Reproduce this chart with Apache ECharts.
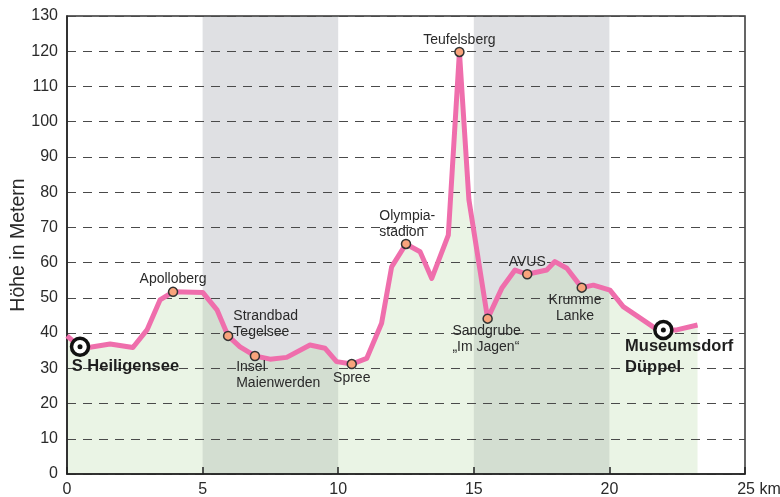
<!DOCTYPE html>
<html>
<head>
<meta charset="utf-8">
<script src="https://cdn.jsdelivr.net/npm/echarts@6/dist/echarts.min.js"></script>
<style>
html,body{margin:0;padding:0;background:#fff;}
#chart{width:780px;height:497px;}
</style>
</head>
<body>
<div id="chart"></div>
<script>
// Elevation profile (km along route, height in metres)
const profileKm = [0, 0.48, 0.85, 1.59, 2.43, 2.95, 3.43, 3.91, 5.01, 5.53, 5.94, 6.38, 6.93, 7.49, 8.10, 8.96, 9.51, 9.94, 10.50, 11.05, 11.60, 11.97, 12.50, 13.02, 13.45, 14.06, 14.47, 14.82, 15.51, 16.03, 16.52, 16.97, 17.69, 17.99, 18.43, 18.98, 19.41, 20.02, 20.51, 21.07, 21.68, 21.99, 22.48, 23.25];
const profileHeight = [39.2, 36.1, 36.0, 36.9, 35.9, 40.9, 49.4, 51.7, 51.5, 46.6, 39.2, 36.1, 33.5, 32.6, 33.1, 36.6, 35.7, 31.9, 31.2, 32.8, 42.8, 58.8, 65.3, 63.1, 55.5, 67.8, 119.8, 77.8, 44.1, 52.7, 57.9, 56.7, 57.9, 60.3, 58.4, 52.9, 53.6, 52.2, 47.5, 44.6, 41.4, 40.9, 40.9, 42.3];

// Landmarks
const landmarkNames = ['Apolloberg', 'Strandbad\nTegelsee', 'Insel\nMaienwerden', 'Spree', 'Olympia-\nstadion', 'Teufelsberg', 'Sandgrube\n„Im Jagen“', 'AVUS', 'Krumme\nLanke'];
const landmarkKm = [3.91, 5.94, 6.93, 10.50, 12.50, 14.47, 15.51, 16.97, 18.98];
const landmarkHeight = [51.7, 39.2, 33.5, 31.2, 65.3, 119.8, 44.1, 56.7, 52.9];

// Start / end stations
const stationNames = ['S Heiligensee', 'Museumsdorf\nDüppel'];
const stationKm = [0.48, 21.99];
const stationHeight = [36.1, 40.9];

// Shaded 5-km bands
const bandRanges = [[5, 10], [15, 20]];

// Axis ticks
const xTicks = [0, 5, 10, 15, 20, 25];
const yTicks = [0, 10, 20, 30, 40, 50, 60, 70, 80, 90, 100, 110, 120, 130];

const FONT = '"Liberation Sans Narrow", "Liberation Sans", Arial, sans-serif';

// label placement (style only)
const landmarkLabelStyle = {
  'Apolloberg': {position: 'top', distance: -1},
  'Strandbad\nTegelsee': {position: [10.5, -22.5], align: 'left', verticalAlign: 'top'},
  'Insel\nMaienwerden': {position: [-13.5, 8.5], align: 'left', verticalAlign: 'top'},
  'Spree': {position: 'bottom', distance: 1},
  'Olympia-\nstadion': {position: [-21.5, -30.5], align: 'left', verticalAlign: 'top'},
  'Teufelsberg': {position: 'top', distance: -1},
  'Sandgrube\n„Im Jagen“': {position: [-30, 10], align: 'left', verticalAlign: 'top'},
  'AVUS': {position: 'top', distance: -1},
  'Krumme\nLanke': {position: [-1.5, 9.8], align: 'center', verticalAlign: 'top'}
};
const stationLabelStyle = {
  'S Heiligensee': {position: [2, 19], align: 'left', verticalAlign: 'top'},
  'Museumsdorf\nDüppel': {position: [-28, 16.5], align: 'left', verticalAlign: 'top'}
};

const profile = profileKm.map((k, i) => [k, profileHeight[i]]);
const landmarks = landmarkNames.map((n, i) => ({
  name: n, value: [landmarkKm[i], landmarkHeight[i]],
  label: landmarkLabelStyle[n]
}));
const stations = stationNames.map((n, i) => ({
  name: n, value: [stationKm[i], stationHeight[i]],
  label: stationLabelStyle[n]
}));
const stationDots = stationNames.map((n, i) => [stationKm[i], stationHeight[i]]);

const chart = echarts.init(document.getElementById('chart'), null, {renderer: 'canvas'});
chart.setOption({
  animation: false,
  backgroundColor: '#fff',
  grid: {left: 67, right: 35, top: 16, bottom: 23, show: true, borderColor: '#333', borderWidth: 1.5, z: 2,
         backgroundColor: 'transparent', containLabel: false, outerBoundsMode: 'none'},
  xAxis: {
    type: 'value', min: xTicks[0], max: xTicks[xTicks.length - 1], interval: 5, z: 2,
    axisLine: {show: true, lineStyle: {color: '#222', width: 1.5}},
    axisTick: {show: true, inside: true, length: 7, lineStyle: {color: '#222', width: 1.5}},
    splitLine: {show: false},
    axisLabel: {
      fontFamily: FONT, fontSize: 16, color: '#2a2a2a', margin: 8,
      formatter: v => v === 25 ? '{u|' + v + ' km}' : String(v),
      rich: {u: {fontFamily: FONT, fontSize: 16, color: '#2a2a2a', padding: [0, 0, 0, 28]}}
    }
  },
  yAxis: {
    type: 'value', min: yTicks[0], max: yTicks[yTicks.length - 1], interval: 10, z: 2,
    name: 'Höhe in Metern', nameLocation: 'middle', nameGap: 38, nameMoveOverlap: false,
    nameTextStyle: {fontFamily: '"Liberation Sans", Arial, sans-serif', fontSize: 19.5, color: '#2a2a2a'},
    axisLine: {show: true, lineStyle: {color: '#222', width: 1.5}},
    axisTick: {show: false},
    splitLine: {show: true, lineStyle: {color: '#4a4a4a', width: 1, type: [9, 7]}},
    axisLabel: {fontFamily: FONT, fontSize: 16, color: '#2a2a2a', margin: 9}
  },
  series: [
    {
      type: 'line', data: [], z: 0, silent: true,
      markArea: {
        silent: true,
        itemStyle: {color: '#dfe0e3'},
        data: bandRanges.map(r => [{xAxis: r[0]}, {xAxis: r[1]}])
      }
    },
    {
      type: 'line', data: profile, symbol: 'none', z: 1, silent: true,
      lineStyle: {width: 0, opacity: 0},
      areaStyle: {color: 'rgba(184,216,165,0.42)', origin: 'start'}
    },
    {
      type: 'line', data: profile, symbol: 'none', z: 3, silent: true,
      lineStyle: {color: '#ef6eac', width: 5, join: 'round'}
    },
    {
      type: 'scatter', data: landmarks, z: 4, symbolSize: 9,
      itemStyle: {color: '#f8a47c', borderColor: '#333', borderWidth: 1.5, opacity: 1},
      label: {show: true, formatter: p => p.name, fontFamily: FONT, fontSize: 14, lineHeight: 16, color: '#2a2a2a'}
    },
    {
      type: 'scatter', data: stations, z: 5, symbolSize: 17,
      itemStyle: {color: '#fff', borderColor: '#111', borderWidth: 3.5, opacity: 1},
      label: {show: true, formatter: p => p.name, fontFamily: FONT, fontSize: 16.5, fontWeight: 'bold', lineHeight: 21, color: '#1e1e1e'}
    },
    {
      type: 'scatter', data: stationDots, z: 6, symbolSize: 5,
      itemStyle: {color: '#111', opacity: 1}
    }
  ]
});
</script>
</body>
</html>
